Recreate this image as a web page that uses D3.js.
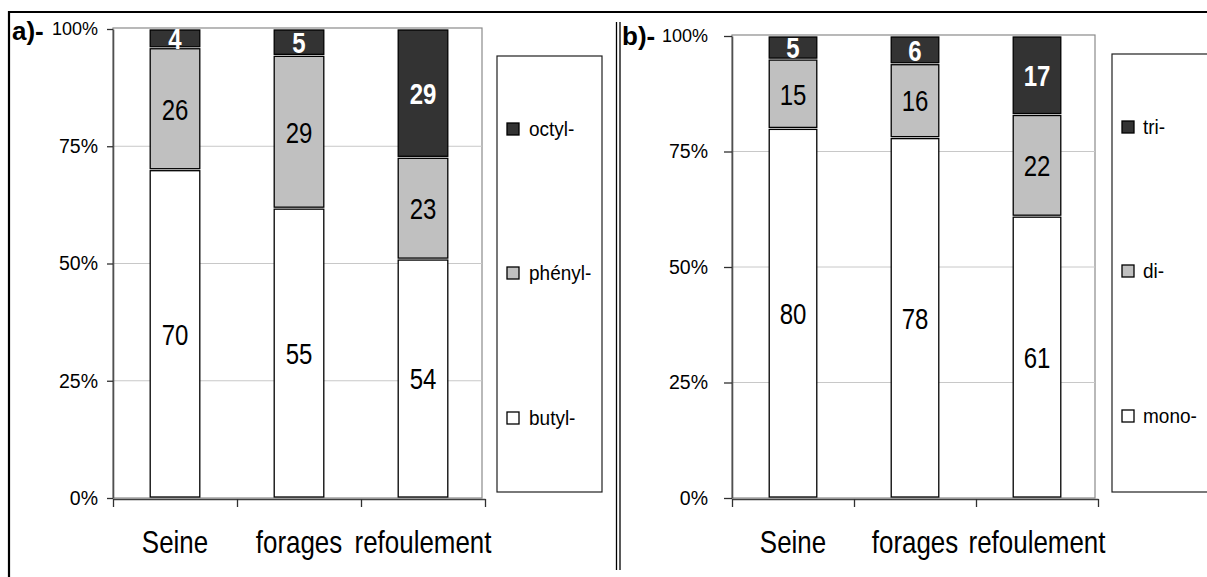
<!DOCTYPE html>
<html><head><meta charset="utf-8">
<script src="https://cdn.jsdelivr.net/npm/d3@7"></script>
<style>
body{margin:0;background:#fff}
text{font-family:"Liberation Sans",Arial,Helvetica,sans-serif}
</style>
</head><body>
<svg id="c" width="1207" height="577"></svg>
<script>
// ---- data ----
const categories = ["Seine", "forages", "refoulement"];
const seriesA = ["butyl-", "phényl-", "octyl-"];
const butylA  = [70, 55, 54];
const phenylA = [26, 29, 23];
const octylA  = [4, 5, 29];
const seriesB = ["mono-", "di-", "tri-"];
const monoB = [80, 78, 61];
const diB   = [15, 16, 22];
const triB  = [5, 6, 17];
const yTickValues = [0, 0.25, 0.5, 0.75, 1];
const yTickLabels = ["0%", "25%", "50%", "75%", "100%"];
const panelTitles = ["a)-", "b)-"];
const fills = ["#ffffff", "#c0c0c0", "#333333"];

const svg = d3.select("#c");

// outer frame
svg.append("line").attr("x1", 9).attr("x2", 1207).attr("y1", 12).attr("y2", 12)
  .attr("stroke", "#000").attr("stroke-width", 2.2);
svg.append("line").attr("x1", 9).attr("x2", 9).attr("y1", 11).attr("y2", 577)
  .attr("stroke", "#000").attr("stroke-width", 2.2);
[616.5, 620].forEach(x => svg.append("line").attr("x1", x).attr("x2", x)
  .attr("y1", 22).attr("y2", 570).attr("stroke", "#000").attr("stroke-width", 1.3));

function panel(cfg) {
  const g = svg.append("g");
  const rows = categories.map((c, i) => cfg.values.map(v => v[i]));
  const stack = d3.stack().keys([0, 1, 2]).value((d, k) => d[k]).offset(d3.stackOffsetExpand);
  const layers = stack(rows);

  const y = d3.scaleLinear().domain([0, 1]).range([cfg.yBottom, cfg.yTop]);
  const xb = d3.scaleBand().domain(categories).range([cfg.x0, cfg.x1]).padding(0);
  const xl = d3.scaleLinear().domain([0, categories.length]).range([cfg.x0, cfg.x1]);
  const bw = xb.bandwidth() * cfg.barFrac;

  // plot area border
  g.append("rect").attr("x", cfg.x0).attr("y", cfg.plotTop)
    .attr("width", cfg.plotRight - cfg.x0).attr("height", cfg.yBottom - cfg.plotTop)
    .attr("fill", "none").attr("stroke", "#8a8a8a").attr("stroke-width", 1.2);
  // gridlines
  g.selectAll(".grid").data(yTickValues.filter(v => v > 0 && v < 1)).join("line")
    .attr("x1", cfg.x0).attr("x2", cfg.plotRight)
    .attr("y1", d => y(d)).attr("y2", d => y(d))
    .attr("stroke", "#c8c8c8").attr("stroke-width", 1);

  // bars
  layers.forEach((layer, li) => {
    g.selectAll(".s" + li).data(layer).join("rect")
      .attr("x", (d, i) => xb(categories[i]) + (xb.bandwidth() - bw) / 2)
      .attr("y", d => y(d[1]) + 1)
      .attr("width", bw)
      .attr("height", d => Math.max(0, y(d[0]) - y(d[1]) - 2))
      .attr("fill", fills[li]).attr("stroke", "#000").attr("stroke-width", 1.3);
  });
  // labels
  layers.forEach((layer, li) => {
    const top = li === 2;
    const fs = 30;
    g.selectAll(".l" + li).data(layer).join("text")
      .attr("text-anchor", "middle")
      .attr("transform", (d, i) => {
        const cx = xb(categories[i]) + xb.bandwidth() / 2;
        const cy = (y(d[0]) + y(d[1])) / 2 + 0.36 * fs;
        return `translate(${cx},${cy}) scale(0.8,1)`;
      })
      .attr("font-size", fs)
      .attr("font-weight", top ? "bold" : "normal")
      .attr("fill", top ? "#fff" : "#000")
      .text((d, i) => cfg.values[li][i]);
  });

  // y axis
  const ya = g.append("g").attr("transform", `translate(${cfg.x0},0)`)
    .call(d3.axisLeft(y).tickValues(yTickValues)
      .tickFormat((d, i) => yTickLabels[i]).tickSize(cfg.tickSize).tickPadding(cfg.tickPad).tickSizeOuter(0));
  ya.select(".domain").attr("stroke", "#505050").attr("stroke-width", 1.6);
  ya.selectAll(".tick line").attr("stroke", "#303030").attr("stroke-width", 1.3);
  ya.selectAll(".tick text").attr("fill", "#000")
    .attr("font-size", d => d === 1 ? 18 : 19.5)
    .attr("font-family", '"Liberation Sans",Arial,sans-serif');

  // x axis tick marks (between categories)
  const xa = g.append("g").attr("transform", `translate(0,${cfg.yBottom + 1})`)
    .call(d3.axisBottom(xl).tickValues(d3.range(categories.length + 1))
      .tickFormat("").tickSize(8).tickSizeOuter(0));
  xa.select(".domain").attr("stroke", "#404040").attr("stroke-width", 1.6);
  xa.selectAll(".tick line").attr("stroke", "#303030").attr("stroke-width", 1.3);

  // category labels
  const xc = g.append("g").attr("transform", `translate(0,${cfg.yBottom + 1})`)
    .call(d3.axisBottom(xb).tickSize(0));
  xc.select(".domain").remove();
  xc.selectAll(".tick text").attr("y", 0).attr("dy", 0)
    .attr("transform", `translate(0,${cfg.labelY}) scale(0.81,1)`)
    .attr("font-size", 32).attr("fill", "#000")
    .attr("font-family", '"Liberation Sans",Arial,sans-serif');

  // title
  g.append("text").attr("x", cfg.titleX).attr("y", cfg.titleY)
    .attr("font-size", 26).attr("font-weight", "bold").text(cfg.title);

  // legend
  const L = cfg.legend;
  g.append("rect").attr("x", L.x).attr("y", L.y).attr("width", L.w).attr("height", L.h)
    .attr("fill", "#fff").attr("stroke", "#202020").attr("stroke-width", 1.2);
  const order = [2, 1, 0];
  const offs = [73, 217, 362];
  order.forEach((si, k) => {
    const cy = L.y + offs[k];
    g.append("rect").attr("x", L.x + 10).attr("y", cy - 6).attr("width", 12).attr("height", 12)
      .attr("fill", fills[si]).attr("stroke", "#000").attr("stroke-width", 1.3);
    g.append("text").attr("transform", `translate(${L.x + L.tx},${cy + 7}) scale(0.95,1)`)
      .attr("font-size", 20).text(cfg.series[si]);
  });
}

panel({
  values: [butylA, phenylA, octylA], series: seriesA, title: panelTitles[0],
  x0: 113, x1: 485, plotRight: 482, yBottom: 498, yTop: 29, plotTop: 28,
  barFrac: 0.4, tickSize: 6, tickPad: 9, labelY: 54, titleX: 12, titleY: 40,
  legend: {x: 497, y: 56, w: 105, h: 436, tx: 32}
});
panel({
  values: [monoB, diB, triB], series: seriesB, title: panelTitles[1],
  x0: 732, x1: 1098, plotRight: 1095, yBottom: 498, yTop: 36, plotTop: 35,
  barFrac: 0.39, tickSize: 8, tickPad: 16, labelY: 54, titleX: 622, titleY: 45,
  legend: {x: 1112, y: 54, w: 110, h: 438, tx: 31}
});
</script>
</body></html>
